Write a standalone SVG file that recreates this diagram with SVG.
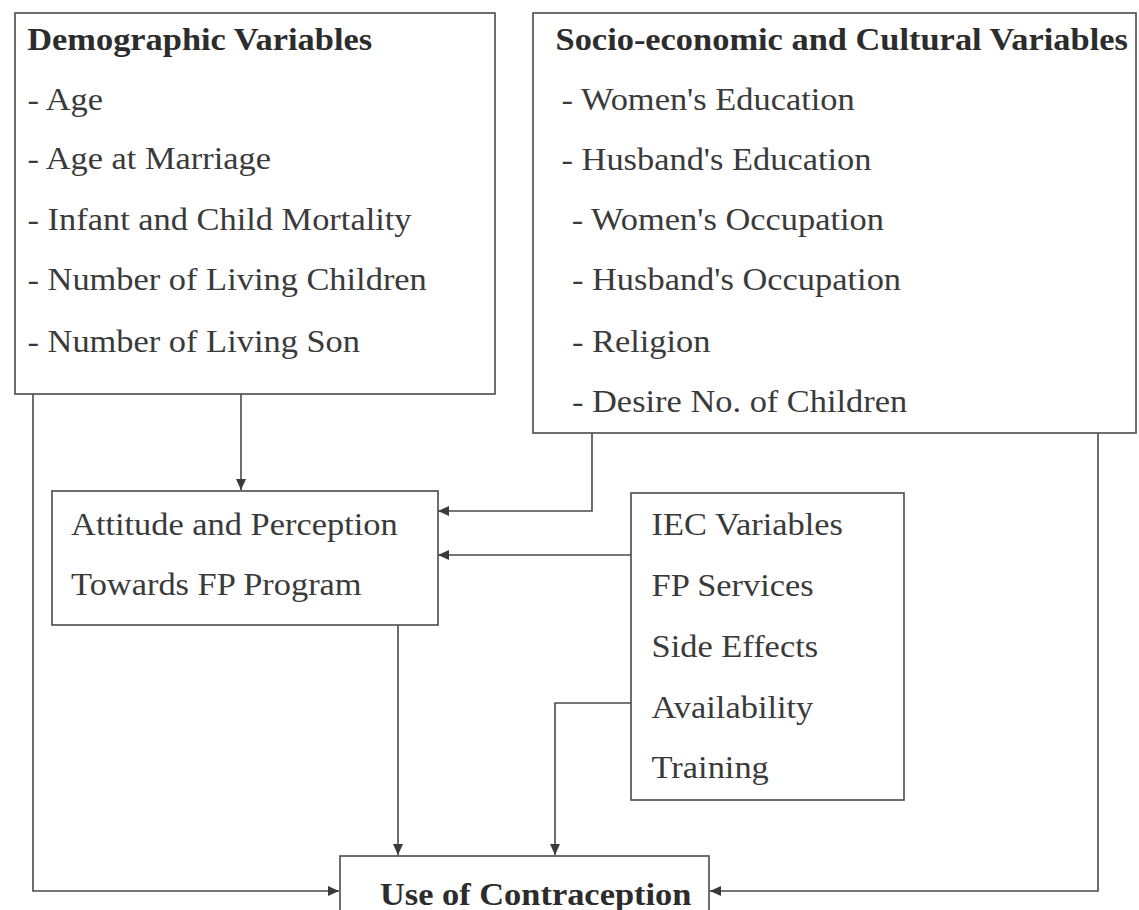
<svg xmlns="http://www.w3.org/2000/svg" width="1139" height="910" viewBox="0 0 1139 910">
  <style>
    .box { fill: none; stroke: #4a4a4a; stroke-width: 1.6; }
    .conn { fill: none; stroke: #4a4a4a; stroke-width: 1.6; }
    .t { font-family: "Liberation Serif", "Times New Roman", serif; font-size: 31px; fill: #3a3a3a; }
    .h { font-weight: bold; fill: #2c2c2c; }
  </style>
  <defs>
    <marker id="arr" markerUnits="userSpaceOnUse" markerWidth="12" markerHeight="10" refX="11" refY="5" orient="auto">
      <path d="M0,0 L11,5 L0,10 z" fill="#3a3a3a"/>
    </marker>
  </defs>
  <rect width="1139" height="910" fill="#ffffff"/>

  <g id="demographic">
    <rect class="box" x="15" y="13" width="480" height="381"/>
    <g transform="scale(1.11 1)">
      <text class="t h" x="24.5" y="50">Demographic Variables</text>
      <text class="t" x="24.8" y="110">- Age</text>
      <text class="t" x="24.8" y="169">- Age at Marriage</text>
      <text class="t" x="24.8" y="230">- Infant and Child Mortality</text>
      <text class="t" x="24.8" y="290">- Number of Living Children</text>
      <text class="t" x="24.8" y="352">- Number of Living Son</text>
    </g>
  </g>

  <g id="socio">
    <rect class="box" x="533" y="13" width="603" height="420"/>
    <g transform="scale(1.11 1)">
      <text class="t h" x="500.5" y="50">Socio-economic and Cultural Variables</text>
      <text class="t" x="505.9" y="110">- Women's Education</text>
      <text class="t" x="505.9" y="170">- Husband's Education</text>
      <text class="t" x="515" y="230">- Women's Occupation</text>
      <text class="t" x="515.3" y="290">- Husband's Occupation</text>
      <text class="t" x="515.3" y="352">- Religion</text>
      <text class="t" x="515.3" y="412">- Desire No. of Children</text>
    </g>
  </g>

  <g id="attitude">
    <rect class="box" x="52" y="491" width="386" height="134"/>
    <g transform="scale(1.11 1)">
      <text class="t" x="64" y="535">Attitude and Perception</text>
      <text class="t" x="64" y="595">Towards FP Program</text>
    </g>
  </g>

  <g id="iec">
    <rect class="box" x="631" y="493" width="273" height="307"/>
    <g transform="scale(1.11 1)">
      <text class="t" x="587" y="535">IEC Variables</text>
      <text class="t" x="587" y="596">FP Services</text>
      <text class="t" x="587" y="657">Side Effects</text>
      <text class="t" x="587" y="718">Availability</text>
      <text class="t" x="587" y="778">Training</text>
    </g>
  </g>

  <g id="use">
    <rect class="box" x="340" y="856" width="369" height="80"/>
    <g transform="scale(1.11 1)">
      <text class="t h" x="342.3" y="905">Use of Contraception</text>
    </g>
  </g>

  <g id="connectors">
    <path class="conn" d="M241,394 V490" marker-end="url(#arr)"/>
    <path class="conn" d="M33,394 V891 H339" marker-end="url(#arr)"/>
    <path class="conn" d="M592,433 V511 H438" marker-end="url(#arr)"/>
    <path class="conn" d="M631,555 H438" marker-end="url(#arr)"/>
    <path class="conn" d="M398,625 V855" marker-end="url(#arr)"/>
    <path class="conn" d="M631,703 H555 V855" marker-end="url(#arr)"/>
    <path class="conn" d="M1098,433 V891 H710" marker-end="url(#arr)"/>
  </g>
</svg>
